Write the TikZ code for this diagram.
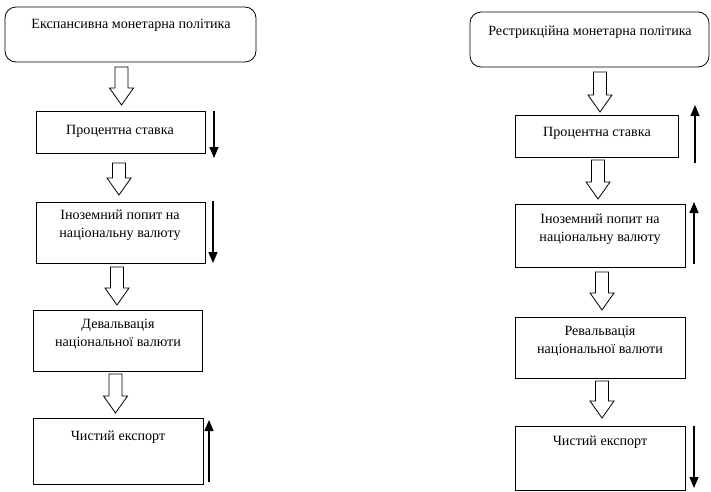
\documentclass[tikz,border=0pt]{standalone}
\usepackage{fontspec}
\setmainfont{Liberation Serif}
\usetikzlibrary{arrows.meta,calc}
\newcommand{\harrow}[4]{% name, cx, ytop, ybot
  \draw[hollow] ($(#2-6.5,#3)$) -- ($(#2+6.5,#3)$) -- ($(#2+6.5,#4-17)$) -- ($(#2+12,#4-17)$)
     -- (#2,#4) coordinate (#1) -- ($(#2-12,#4-17)$) -- ($(#2-6.5,#4-17)$) -- cycle;}
\begin{document}
\begin{tikzpicture}[x=1pt,y=-1pt,
  box/.style={draw,line width=0.8pt},
  rbox/.style={draw,line width=0.8pt,rounded corners=11pt},
  lbl/.style={font=\fontsize{14.1}{17.5}\selectfont,align=center,inner sep=0pt},
  hollow/.style={draw,line width=0.8pt,fill=white},
  ind/.style={line width=1.4pt,-{Triangle[length=11pt,width=9pt]}}]
\useasboundingbox (0,0) rectangle (711,491);
% ---------- left column ----------
\draw[rbox] (5,7) rectangle (256,62);
\node[lbl] (lt) at (131,25) {Експансивна монетарна політика};
\harrow{lh1}{121.5}{67}{105}
\draw[box] (36,111) rectangle (205,153);
\node[lbl] (l2) at (120,131) {Процентна ставка};
\draw[ind] (214,111) -- (214,158);
\harrow{lh2}{119}{163}{195}
\draw[box] (36,202) rectangle (205,263);
\node[lbl] (l3) at (120,225) {Іноземний попит на\\національну валюту};
\draw[ind] (213,201) -- (213,263);
\harrow{lh3}{117}{267}{305}
\draw[box] (33,310) rectangle (202,371);
\node[lbl] (l4) at (118,334) {Девальвація\\національної валюти};
\harrow{lh4}{115.5}{374}{413}
\draw[box] (33,418) rectangle (203,484);
\node[lbl] (l5) at (118,437) {Чистий експорт};
\draw[ind] (209,482) -- (209,420);
% ---------- right column ----------
\draw[rbox] (470,12) rectangle (709,67);
\node[lbl] (rt) at (590,32) {Рестрикційна монетарна політика};
\harrow{rh1}{600}{72}{112}
\draw[box] (515,115) rectangle (678,157);
\node[lbl] (r2) at (597,133) {Процентна ставка};
\draw[ind] (695,163) -- (695,105);
\harrow{rh2}{598}{160}{199}
\draw[box] (515,204) rectangle (685,267);
\node[lbl] (r3) at (600,229) {Іноземний попит на\\національну валюту};
\draw[ind] (694,264) -- (694,202);
\harrow{rh3}{602}{272}{310}
\draw[box] (515,317) rectangle (685,378);
\node[lbl] (r4) at (600,341) {Ревальвація\\національної валюти};
\harrow{rh4}{602}{381}{418}
\draw[box] (515,426) rectangle (685,490);
\node[lbl] (r5) at (600,442) {Чистий експорт};
\draw[ind] (694,426) -- (694,488);
\end{tikzpicture}
\end{document}
